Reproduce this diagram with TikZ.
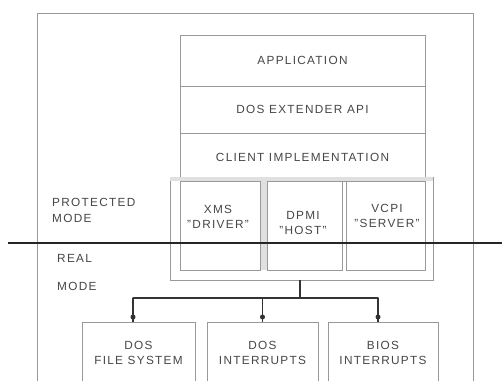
\documentclass[tikz,border=0pt]{standalone}
\usepackage{fontspec}
\setmainfont{Liberation Sans}[LetterSpace=11]
\begin{document}
\begin{tikzpicture}[x=1pt,y=-1pt,
  frame/.style={draw=black!40,line width=0.8pt},
  box/.style={draw=black!40,line width=0.8pt,rectangle,inner sep=0pt,
    align=center,text=black!72,font=\fontsize{11.8}{14.5}\selectfont},
  lbl/.style={anchor=west,inner sep=0pt,text=black!72,align=left,
    font=\fontsize{11.8}{16}\selectfont},
  wire/.style={draw=black!80,line width=1.5pt},
  tap/.style={circle,fill=black!80,inner sep=0pt,minimum size=5pt}]
\useasboundingbox (0,0) rectangle (502,380);
\fill[white] (0,0) rectangle (502,380);

% outer frame, open at the bottom
\draw[frame] (37,385) -- (37,13) -- (473,13) -- (473,385);

% layered software stack
\node[box,minimum width=245,minimum height=51] (app) at (302.5,60.5) {APPLICATION};
\node[box,minimum width=245,minimum height=47] (api) at (302.5,109.5) {DOS EXTENDER API};
\node[box,minimum width=245,minimum height=48] (cli) at (302.5,157) {CLIENT IMPLEMENTATION};

% group of memory servers
\node[box,minimum width=263,minimum height=103] (grp) at (301.5,228.5) {};
\fill[black!12] (170.4,177.4) rectangle (432.6,181);
\fill[black!12] (260,181) rectangle (267,270);
\node[box,minimum width=80,minimum height=89] (xms) at (220,225.5) {};
\node[box,minimum width=75,minimum height=89] (dpmi) at (304.5,225.5) {};
\node[box,minimum width=79,minimum height=89] (vcpi) at (385.5,225.5) {};
\node[box,draw=none,anchor=north] (xmst) at (218,205) {XMS\\"DRIVER"};
\node[box,draw=none,anchor=north] (dpmit) at (303,211) {DPMI\\"HOST"};
\node[box,draw=none,anchor=north] (vcpit) at (387,204) {VCPI\\"SERVER"};

% mode labels and the boundary between them
\node[lbl] (prot) at (52,210) {PROTECTED\\MODE};
\node[lbl] (real) at (57,258) {REAL};
\node[lbl] (rmode) at (57,286) {MODE};
\coordinate (divL) at (8,243);
\coordinate (divR) at (502,243);
\draw[black!85,line width=2.6pt] (divL) -- (divR);

% DOS / BIOS services
\node[box,minimum width=113,minimum height=70,anchor=north] (dfs) at (138.5,322) {};
\node[box,minimum width=111,minimum height=70,anchor=north] (dint) at (262.5,322) {};
\node[box,minimum width=110,minimum height=70,anchor=north] (bint) at (383,322) {};
\node[box,draw=none] (dfst) at (138.5,353) {DOS\\FILE SYSTEM};
\node[box,draw=none] (dintt) at (262.5,353) {DOS\\INTERRUPTS};
\node[box,draw=none] (bintt) at (383,353) {BIOS\\INTERRUPTS};

% bus from the servers down to the services
\coordinate (bus) at (300,298);
\coordinate (busL) at (133,298);
\coordinate (busR) at (378,298);
\draw[wire] (grp.south -| bus) -- (bus);
\draw[wire,line cap=round] (busL) -- (busR);
\draw[wire] (busL) -- (busL |- dfs.north);
\draw[wire] (bus -| dint.north) -- (dint.north);
\draw[wire] (busR) -- (busR |- bint.north);
\node[tap] (t1) at (133,317) {};
\node[tap] (t2) at (262.5,317) {};
\node[tap] (t3) at (378,317) {};
\end{tikzpicture}
\end{document}
